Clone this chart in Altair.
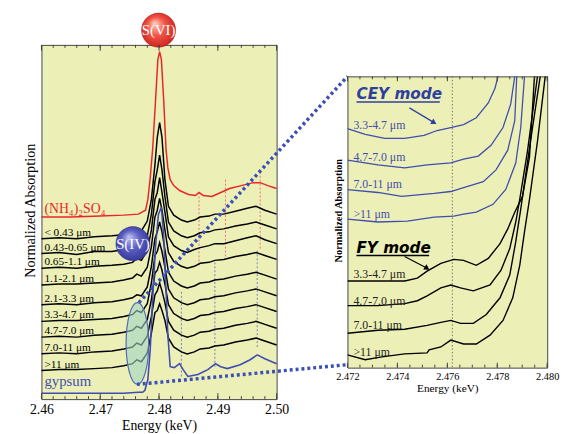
import altair as alt
import pandas as pd

SERIF = "Liberation Serif"
SANS = "DejaVu Sans"

# ---------------- left panel (stacked S K-edge spectra) ----------------
E_GRID = [2.460, 2.463, 2.466, 2.469, 2.472, 2.474, 2.4755, 2.4762, 2.4770, 2.4780,
          2.4787, 2.4793, 2.4797, 2.4801, 2.4805, 2.4810, 2.4816, 2.4825, 2.4838, 2.4848,
          2.4860, 2.4870, 2.4885, 2.4895, 2.4910, 2.4930, 2.4950, 2.4965, 2.4980, 2.5000]

SIZE_LABELS = ["< 0.43 μm", "0.43-0.65 μm", "0.65-1.1 μm", "1.1-2.1 μm", "2.1-3.3 μm",
               "3.3-4.7 μm", "4.7-7.0 μm", "7.0-11 μm", ">11 μm"]

S_LT043 = [163, 164, 163, 165, 166, 167, 169, 172, 171, 181, 203, 238, 266, 281, 266, 223, 196, 187, 182, 180, 182, 185, 186, 188, 188, 191, 194, 196, 192, 188]
S_043_065 = [148, 149, 147, 150, 150, 152, 154, 157, 156, 166, 188, 221, 233, 248, 233, 206, 180, 171, 166, 164, 166, 169, 170, 172, 173, 176, 178, 180, 177, 173]
S_065_11 = [133, 134, 133, 135, 136, 137, 139, 143, 141, 151, 172, 203, 210, 225, 210, 190, 165, 156, 151, 149, 152, 154, 156, 158, 158, 161, 164, 166, 162, 158]
S_11_21 = [116, 117, 117, 118, 119, 121, 123, 127, 125, 134, 155, 185, 192, 204, 192, 172, 149, 140, 135, 133, 135, 138, 139, 141, 142, 145, 147, 149, 146, 142]
S_21_33 = [96, 97, 96, 98, 99, 101, 103, 106, 105, 114, 135, 163, 170, 180, 170, 152, 129, 120, 115, 113, 115, 118, 119, 121, 122, 125, 127, 129, 126, 122]
S_33_47 = [79, 80, 80, 81, 82, 84, 86, 90, 88, 97, 118, 146, 150, 159, 150, 134, 112, 103, 98, 96, 98, 101, 102, 104, 105, 108, 110, 112, 109, 105]
S_47_70 = [63, 64, 63, 65, 66, 68, 70, 74, 72, 81, 101, 128, 131, 139, 131, 117, 96, 87, 82, 80, 82, 85, 86, 88, 89, 92, 94, 96, 93, 89]
S_70_11 = [46, 47, 46, 48, 49, 51, 53, 57, 55, 64, 84, 106, 110, 118, 110, 98, 79, 70, 65, 63, 65, 68, 69, 71, 72, 75, 77, 79, 76, 72]
S_GT11 = [29, 30, 30, 31, 32, 34, 36, 40, 38, 47, 67, 88, 90, 97, 90, 80, 62, 53, 48, 46, 48, 51, 52, 54, 55, 58, 60, 62, 59, 55]
BLACK_SPECTRA = [S_LT043, S_043_065, S_065_11, S_11_21, S_21_33, S_33_47, S_47_70, S_70_11, S_GT11]

RED_E = [2.460, 2.465, 2.470, 2.474, 2.4765, 2.4777, 2.4781, 2.4785, 2.4789, 2.4794, 2.4798, 2.4801,
         2.4804, 2.4808, 2.4812, 2.4815, 2.4819, 2.4825, 2.4835, 2.4850, 2.4862, 2.4868, 2.4875,
         2.4890, 2.4905, 2.4920, 2.4940, 2.4960, 2.4972, 2.4985, 2.5000]
RED_A = [185, 185, 186, 187, 188, 192, 203, 225, 253, 303, 345, 353, 345, 303, 253, 235, 223, 217,
         212, 208, 207, 210, 207, 206, 210, 214, 217, 220, 220, 217, 214]

GYP_E = [2.460, 2.465, 2.470, 2.474, 2.4765, 2.4772, 2.4776, 2.4781, 2.4785, 2.4789, 2.4794, 2.4799,
         2.4804, 2.4808, 2.4812, 2.4815, 2.4819, 2.4826, 2.4835, 2.4841, 2.4849, 2.4866, 2.4883,
         2.4896, 2.4905, 2.4916, 2.4938, 2.4955, 2.4967, 2.4980, 2.5000]
GYP_A = [6, 6, 6, 6, 7, 7, 9, 20, 50, 100, 155, 188, 195, 165, 110, 65, 33, 32, 36, 30, 23, 25, 30,
         36, 33, 31, 35, 40, 45, 41, 36]

RED_DOT_E = [2.4868, 2.4913, 2.4972]
RED_DOT_LO = [136, 145, 153]
RED_DOT_HI = [210, 223, 230]
BLUE_DOT_E = [2.4838, 2.4895, 2.4967]
BLUE_DOT_LO = [23, 33, 53]
BLUE_DOT_HI = [110, 140, 153]

LEFT_MAJOR = [2.46, 2.47, 2.48, 2.49, 2.50]
LEFT_MINOR = [2.460, 2.462, 2.464, 2.466, 2.468, 2.470, 2.472, 2.474, 2.476, 2.478, 2.480,
              2.482, 2.484, 2.486, 2.488, 2.490, 2.492, 2.494, 2.496, 2.498, 2.500]

# annotation anchors (energy, absorption units of the left panel)
SVI_POS = (2.47992, 375)
SIV_POS = (2.47556, 158)
ELLIPSE_POS = (2.47632, 56.5)
ZOOM_E = [2.47657, 2.51205]
ZOOM_UPPER = [98, 328]
ZOOM_LOWER_E = [2.47623, 2.51205]
ZOOM_LOWER = [15, 35]

# ---------------- right panel (pre-edge zoom) ----------------
CEY_LABELS = ["3.3-4.7 μm", "4.7-7.0 μm", "7.0-11 μm", ">11 μm"]
CEY1_E = [2.4720, 2.47271, 2.47350, 2.47429, 2.47507, 2.47559, 2.47614, 2.47665, 2.47716, 2.47764, 2.47791, 2.47803, 2.47811]
CEY1_A = [243, 237, 233, 233, 236, 241, 244, 247, 254, 269, 284, 296, 305]
CEY2_E = [2.4720, 2.47322, 2.47429, 2.47519, 2.47614, 2.47665, 2.47724, 2.47775, 2.47823, 2.47854, 2.47870, 2.47878]
CEY2_A = [211, 206, 203, 206, 208, 212, 215, 226, 244, 268, 296, 310]
CEY3_E = [2.4720, 2.47322, 2.47417, 2.47547, 2.47614, 2.47665, 2.47744, 2.47795, 2.47842, 2.47870, 2.47874, 2.47878, 2.47882]
CEY3_A = [181, 178, 174, 177, 179, 183, 189, 201, 221, 251, 274, 296, 310]
CEY4_E = [2.4720, 2.47322, 2.47440, 2.47547, 2.47626, 2.47665, 2.47716, 2.47783, 2.47834, 2.47874, 2.47894, 2.47909, 2.47913]
CEY4_A = [151, 148, 149, 153, 154, 156, 158, 166, 181, 208, 244, 296, 310]

FY_LABELS = ["3.3-4.7 μm", "4.7-7.0 μm", "7.0-11 μm", ">11 μm"]
FY1_E = [2.4720, 2.47322, 2.47429, 2.47480, 2.47519, 2.47574, 2.47626, 2.47665, 2.47716, 2.47764, 2.47811, 2.47842, 2.47870, 2.47901, 2.47929, 2.47949, 2.47953]
FY1_A = [88, 88, 88, 91, 98, 106, 110, 109, 104, 111, 126, 141, 158, 174, 214, 296, 310]
FY2_E = [2.4720, 2.47322, 2.47429, 2.47480, 2.47519, 2.47574, 2.47614, 2.47653, 2.47704, 2.47771, 2.47815, 2.47850, 2.47874, 2.47890, 2.47921, 2.47961, 2.47965]
FY2_A = [63, 63, 65, 68, 73, 81, 84, 81, 78, 84, 99, 121, 148, 171, 220, 296, 310]
FY3_E = [2.4720, 2.47322, 2.47429, 2.47519, 2.47574, 2.47614, 2.47653, 2.47704, 2.47756, 2.47811, 2.47850, 2.47874, 2.47894, 2.47933, 2.47972, 2.47976]
FY3_A = [35, 38, 39, 43, 46, 48, 45, 45, 54, 71, 94, 128, 161, 230, 296, 310]
FY4_E = [2.4720, 2.47271, 2.47338, 2.47429, 2.47519, 2.47527, 2.47574, 2.47614, 2.47665, 2.47716, 2.47771, 2.47823, 2.47862, 2.47890, 2.47909, 2.47929, 2.47961, 2.47992, 2.47996]
FY4_A = [13, 8, 11, 14, 15, 18, 21, 28, 24, 24, 33, 48, 71, 104, 138, 171, 230, 296, 310]

RIGHT_DOT_E = [2.4762]
RIGHT_MAJOR = [2.472, 2.474, 2.476, 2.478, 2.480]
RIGHT_MINOR = [2.4720, 2.4725, 2.4730, 2.4735, 2.4740, 2.4745, 2.4750, 2.4755, 2.4760,
               2.4765, 2.4770, 2.4775, 2.4780, 2.4785, 2.4790, 2.4795, 2.4800]

CEY_TITLE = (2.47236, 278)
CEY_UNDERLINE = (2.47236, 2.47570, 270)
CEY_ARROW = ([2.47448, 2.47547], [264, 249])
FY_TITLE = (2.47236, 121)
FY_UNDERLINE = (2.47236, 2.47527, 114)
FY_ARROW = ([2.47429, 2.47519], [113, 101])

# ---------------- styles ----------------
BG = "#EDF0B6"
FRAME = "#444444"
BLUE = "#3F4DB0"
RED = "#E8262A"

LW, LH = 239, 360
RW, RH = 203, 296

XL_SCALE = alt.Scale(domain=[2.46, 2.50], nice=False, zero=False)
YL_SCALE = alt.Scale(domain=[0, 360], nice=False, zero=False)
XR_SCALE = alt.Scale(domain=[2.472, 2.480], nice=False, zero=False)
YR_SCALE = alt.Scale(domain=[0, 296], nice=False, zero=False)

XL_AXIS = alt.Axis(values=LEFT_MAJOR, format=".2f", labelFont=SERIF, labelFontSize=14,
                   labelColor="black", labelPadding=4, labelFlush=False, ticks=False,
                   domain=False, grid=False, title="Energy (keV)", titleFont=SERIF,
                   titleFontSize=14, titleFontWeight="normal", titleColor="black",
                   titlePadding=2)
YL_AXIS = alt.Axis(labels=False, ticks=False, domain=False, grid=False,
                   title="Normalized Absorption", titleFont=SERIF, titleFontSize=14.5,
                   titleFontWeight="normal", titleColor="black", titlePadding=4, titleY=168)
XR_AXIS = alt.Axis(values=RIGHT_MAJOR, format=".3f", labelFont=SERIF, labelFontSize=10.5,
                   labelColor="black", labelPadding=4, labelFlush=False, ticks=False,
                   domain=False, grid=False, title="Energy (keV)", titleFont=SERIF,
                   titleFontSize=11.5, titleFontWeight="normal", titleColor="black",
                   titlePadding=1)
YR_AXIS = alt.Axis(labels=False, ticks=False, domain=False, grid=False,
                   title="Normalized Absorption", titleFont=SERIF, titleFontSize=10.5,
                   titleFontWeight="bold", titleColor="black", titlePadding=4, titleY=136)


def xl(field="E"):
    return alt.X(f"{field}:Q", scale=XL_SCALE, axis=XL_AXIS)


def yl(field="A"):
    return alt.Y(f"{field}:Q", scale=YL_SCALE, axis=YL_AXIS)


def xr(field="E"):
    return alt.X(f"{field}:Q", scale=XR_SCALE, axis=XR_AXIS)


def yr(field="A"):
    return alt.Y(f"{field}:Q", scale=YR_SCALE, axis=YR_AXIS)


# ---------------- left panel data frames ----------------
black_rows = []
for lab, spec in zip(SIZE_LABELS, BLACK_SPECTRA):
    for e, a in zip(E_GRID, spec):
        black_rows.append({"E": e, "A": a, "sample": lab})
black_df = pd.DataFrame(black_rows)
black_lab_df = pd.DataFrame({"E": [2.4605] * len(SIZE_LABELS),
                             "A": [s[0] + 6 for s in BLACK_SPECTRA],
                             "label": SIZE_LABELS})
red_df = pd.DataFrame({"E": RED_E, "A": RED_A})
gyp_df = pd.DataFrame({"E": GYP_E, "A": GYP_A})
red_dot_df = pd.DataFrame({"E": RED_DOT_E, "A": RED_DOT_LO, "A2": RED_DOT_HI})
blue_dot_df = pd.DataFrame({"E": BLUE_DOT_E, "A": BLUE_DOT_LO, "A2": BLUE_DOT_HI})
zoom_df = pd.DataFrame({"E": ZOOM_E + ZOOM_LOWER_E, "A": ZOOM_UPPER + ZOOM_LOWER,
                        "line": ["upper", "upper", "lower", "lower"]})

left_layers = []
left_layers.append(alt.Chart(red_dot_df).mark_rule(color="#E8707A", strokeWidth=1, strokeDash=[2, 2])
                   .encode(x=xl(), y=yl(), y2="A2:Q"))
left_layers.append(alt.Chart(blue_dot_df).mark_rule(color="#7080B8", strokeWidth=1, strokeDash=[2, 2])
                   .encode(x=xl(), y=yl(), y2="A2:Q"))
left_layers.append(alt.Chart(black_df).mark_line(color="black", strokeWidth=1.5)
                   .encode(x=xl(), y=yl(), detail="sample:N"))
left_layers.append(alt.Chart(red_df).mark_line(color=RED, strokeWidth=1.5).encode(x=xl(), y=yl()))
left_layers.append(alt.Chart(gyp_df).mark_line(color=BLUE, strokeWidth=1.6).encode(x=xl(), y=yl()))
left_layers.append(alt.Chart(black_lab_df).mark_text(align="left", baseline="middle", font=SERIF,
                                                     fontSize=11.5, color="black")
                   .encode(x=xl(), y=yl(), text="label:N"))
left_layers.append(alt.Chart(pd.DataFrame({"E": [2.4605], "A": [RED_A[0] + 8], "t": ["(NH₄)₂SO₄"]}))
                   .mark_text(align="left", baseline="middle", font=SERIF, fontSize=14, color=RED)
                   .encode(x=xl(), y=yl(), text="t:N"))
left_layers.append(alt.Chart(pd.DataFrame({"E": [2.4605], "A": [GYP_A[0] + 12], "t": ["gypsum"]}))
                   .mark_text(align="left", baseline="middle", font=SERIF, fontSize=15, color=BLUE)
                   .encode(x=xl(), y=yl(), text="t:N"))
ELLIPSE_PATH = "M 0,-1 A 0.277,1 0 1,1 0,1 A 0.277,1 0 1,1 0,-1 Z"
left_layers.append(alt.Chart(pd.DataFrame({"E": [ELLIPSE_POS[0]], "A": [ELLIPSE_POS[1]]}))
                   .mark_point(shape=ELLIPSE_PATH, size=6889, filled=True, fill="#9FD6C4",
                               fillOpacity=0.6, stroke="#5468B8", strokeWidth=1.2, opacity=1)
                   .encode(x=xl(), y=yl()))
left_layers.append(alt.Chart(zoom_df).mark_line(color="#3A4FB8", strokeWidth=3.5, strokeDash=[3, 3])
                   .encode(x=xl(), y=yl(), detail="line:N"))
for (pos, txt, stops, edge) in [
    (SIV_POS, "S(IV)", ["#C4C6F2", "#5D61C4", "#2D308F"], "#2D308F"),
    (SVI_POS, "S(VI)", ["#FFD2C4", "#F25444", "#C41A1A"], "#B01515"),
]:
    grad = {"gradient": "radial", "x1": 0.38, "y1": 0.3, "r1": 0, "x2": 0.5, "y2": 0.5, "r2": 0.6,
            "stops": [{"offset": 0, "color": stops[0]}, {"offset": 0.45, "color": stops[1]},
                      {"offset": 1, "color": stops[2]}]}
    pdf = pd.DataFrame({"E": [pos[0]], "A": [pos[1]], "t": [txt]})
    left_layers.append(alt.Chart(pdf).mark_point(shape="circle", size=1200, filled=True, fill=grad,
                                                 stroke=edge, strokeWidth=0.5, opacity=1)
                       .encode(x=xl(), y=yl()))
    left_layers.append(alt.Chart(pdf).mark_text(font=SERIF, fontSize=15, color="white",
                                                align="center", baseline="middle")
                       .encode(x=xl(), y=yl(), text="t:N"))
maj_l = pd.DataFrame({"E": LEFT_MAJOR})
min_l = pd.DataFrame({"E": LEFT_MINOR})
left_layers.append(alt.Chart(maj_l).mark_rule(color=FRAME).encode(x=xl(), y=alt.value(0), y2=alt.value(6)))
left_layers.append(alt.Chart(maj_l).mark_rule(color=FRAME).encode(x=xl(), y=alt.value(LH), y2=alt.value(LH - 6)))
left_layers.append(alt.Chart(min_l).mark_rule(color=FRAME).encode(x=xl(), y=alt.value(0), y2=alt.value(3)))
left_layers.append(alt.Chart(min_l).mark_rule(color=FRAME).encode(x=xl(), y=alt.value(LH), y2=alt.value(LH - 3)))

left = alt.layer(*left_layers).properties(width=LW, height=LH)

# ---------------- right panel ----------------
def series_df(names, es, as_):
    rows = []
    for n, e_list, a_list in zip(names, es, as_):
        for e, a in zip(e_list, a_list):
            rows.append({"E": e, "A": a, "sample": n})
    return pd.DataFrame(rows)


cey_df = series_df(CEY_LABELS, [CEY1_E, CEY2_E, CEY3_E, CEY4_E], [CEY1_A, CEY2_A, CEY3_A, CEY4_A])
fy_df = series_df(FY_LABELS, [FY1_E, FY2_E, FY3_E, FY4_E], [FY1_A, FY2_A, FY3_A, FY4_A])
cey_lab = pd.DataFrame({"E": [2.47224] * 4, "A": [CEY1_A[0] + 4, CEY2_A[0] + 3, CEY3_A[0] + 6, CEY4_A[0] + 5],
                        "label": CEY_LABELS})
fy_lab = pd.DataFrame({"E": [2.47224] * 4, "A": [FY1_A[0] + 7, FY2_A[0] + 5, FY3_A[0] + 8, FY4_A[0] + 3],
                       "label": FY_LABELS})

right_layers = []
right_layers.append(alt.Chart(pd.DataFrame({"E": RIGHT_DOT_E})).mark_rule(color="#555555", strokeWidth=0.8, strokeDash=[1.5, 2])
                    .encode(x=xr(), y=alt.value(0), y2=alt.value(RH)))
right_layers.append(alt.Chart(cey_df).mark_line(color=BLUE, strokeWidth=1.3, clip=True)
                    .encode(x=xr(), y=yr(), detail="sample:N"))
right_layers.append(alt.Chart(fy_df).mark_line(color="black", strokeWidth=1.4, clip=True)
                    .encode(x=xr(), y=yr(), detail="sample:N"))
right_layers.append(alt.Chart(cey_lab).mark_text(align="left", baseline="middle", font=SERIF, fontSize=12, color=BLUE)
                    .encode(x=xr(), y=yr(), text="label:N"))
right_layers.append(alt.Chart(fy_lab).mark_text(align="left", baseline="middle", font=SERIF, fontSize=12, color="#222222")
                    .encode(x=xr(), y=yr(), text="label:N"))
for (tpos, uline, arrow, txt, col) in [
    (CEY_TITLE, CEY_UNDERLINE, CEY_ARROW, "CEY mode", "#2F3F9F"),
    (FY_TITLE, FY_UNDERLINE, FY_ARROW, "FY mode", "black"),
]:
    right_layers.append(alt.Chart(pd.DataFrame({"E": [tpos[0]], "A": [tpos[1]], "t": [txt]}))
                        .mark_text(align="left", baseline="middle", font=SANS, fontSize=15.5,
                                   fontWeight="bold", fontStyle="italic", color=col)
                        .encode(x=xr(), y=yr(), text="t:N"))
    right_layers.append(alt.Chart(pd.DataFrame({"E": [uline[0]], "E2": [uline[1]], "A": [uline[2]]}))
                        .mark_rule(color=col, strokeWidth=1.5)
                        .encode(x=xr(), x2="E2:Q", y=yr()))
    right_layers.append(alt.Chart(pd.DataFrame({"E": arrow[0], "A": arrow[1]}))
                        .mark_line(color=col, strokeWidth=1.2)
                        .encode(x=xr(), y=yr()))
    right_layers.append(alt.Chart(pd.DataFrame({"E": [arrow[0][1]], "A": [arrow[1][1]]}))
                        .mark_point(shape="triangle-right", angle=31, size=40, filled=True, color=col, opacity=1)
                        .encode(x=xr(), y=yr()))
maj_r = pd.DataFrame({"E": RIGHT_MAJOR})
min_r = pd.DataFrame({"E": RIGHT_MINOR})
right_layers.append(alt.Chart(maj_r).mark_rule(color=FRAME).encode(x=xr(), y=alt.value(0), y2=alt.value(5)))
right_layers.append(alt.Chart(maj_r).mark_rule(color=FRAME).encode(x=xr(), y=alt.value(RH), y2=alt.value(RH - 5)))
right_layers.append(alt.Chart(min_r).mark_rule(color=FRAME).encode(x=xr(), y=alt.value(0), y2=alt.value(3)))
right_layers.append(alt.Chart(min_r).mark_rule(color=FRAME).encode(x=xr(), y=alt.value(RH), y2=alt.value(RH - 3)))

right = alt.layer(*right_layers).properties(width=RW, height=RH)

spacer = (alt.Chart(pd.DataFrame({"s": [0]}))
          .mark_point(opacity=0)
          .encode(x=alt.X("s:Q", axis=None), y=alt.Y("s:Q", axis=None))
          .properties(width=RW, height=32,
                      view=alt.ViewBackground(fill="transparent", stroke="transparent")))

chart = (alt.hconcat(left, alt.vconcat(spacer, right, spacing=0, bounds="flush"),
                     spacing=72, bounds="flush")
         .properties(padding={"left": 14, "top": 0, "right": 0, "bottom": 0}, background="white")
         .configure_view(fill=BG, stroke=FRAME, strokeWidth=1))

chart.save("out.html", embed_options={"renderer": "svg", "actions": False})
